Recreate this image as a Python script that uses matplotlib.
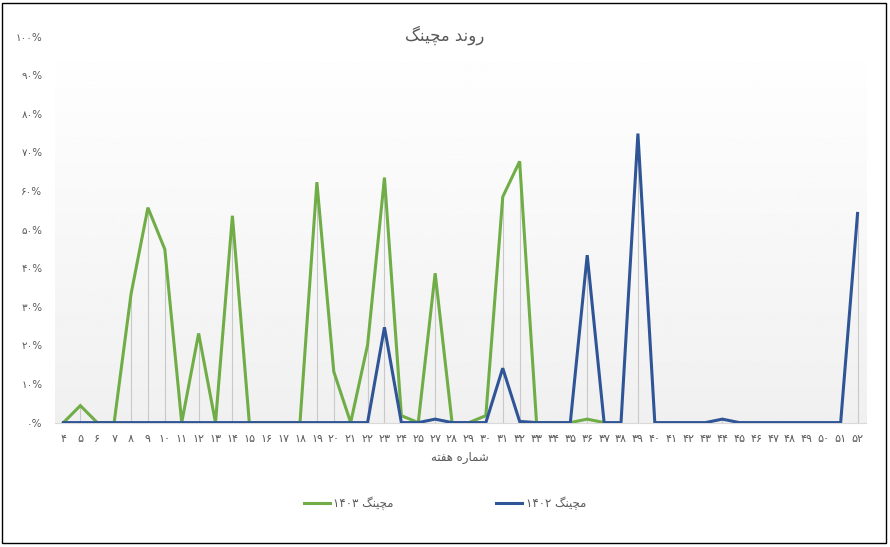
import matplotlib
matplotlib.use('Agg')
import matplotlib.pyplot as plt
import numpy as np
from matplotlib.patches import Rectangle

# --- DATA ---
weeks = [4, 5, 6, 7, 8, 9, 10, 11, 12, 13, 14, 15, 16, 17, 18, 19, 20, 21, 22, 23, 24, 25,
         27, 28, 29, 30, 31, 32, 33, 34, 35, 36, 37, 38, 39, 40, 41, 42, 43, 44, 45, 46,
         47, 48, 49, 50, 51, 52]

# matching % for 1403 (green) - no data after week 37
match_1403 = [0, 4.4, 0, 0, 33.3, 55.7, 44.9, 0, 23.1, 0, 53.6, 0, 0, 0, 0, 62.3, 13.2, 0, 20.1, 63.5, 1.8, 0,
              38.7, 0, 0, 1.8, 58.5, 67.7, 0, 0, 0, 0.9, 0, None, None, None, None, None, None, None, None, None,
              None, None, None, None, None, None]

# matching % for 1402 (blue)
match_1402 = [0, 0, 0, 0, 0, 0, 0, 0, 0, 0, 0, 0, 0, 0, 0, 0, 0, 0, 0, 24.7, 0, 0,
              0.9, 0, 0, 0, 14.1, 0.3, 0, 0, 0, 43.4, 0, 0, 74.9, 0, 0, 0, 0, 0.9, 0, 0,
              0, 0, 0, 0, 0, 54.2]

title_txt = 'روند مچینگ'
xlabel_txt = 'شماره هفته'
name_1403 = 'مچینگ ۱۴۰۳'
name_1402 = 'مچینگ ۱۴۰۲'

# --- simple persian shaping (matplotlib has no bidi / joining) ---
forms = {
    'ا': ('\uFE8D', '\uFE8E', None, None),
    'د': ('\uFEA9', '\uFEAA', None, None),
    'ر': ('\uFEAD', '\uFEAE', None, None),
    'و': ('\uFEED', '\uFEEE', None, None),
    'ن': ('\uFEE5', '\uFEE6', '\uFEE7', '\uFEE8'),
    'م': ('\uFEE1', '\uFEE2', '\uFEE3', '\uFEE4'),
    'چ': ('\uFB7A', '\uFB7B', '\uFB7C', '\uFB7D'),
    'ی': ('\uFBFC', '\uFBFD', '\uFBFE', '\uFBFF'),
    'گ': ('\uFB92', '\uFB93', '\uFB94', '\uFB95'),
    'ش': ('\uFEB5', '\uFEB6', '\uFEB7', '\uFEB8'),
    'ه': ('\uFEE9', '\uFEEA', '\uFEEB', '\uFEEC'),
    'ف': ('\uFED1', '\uFED2', '\uFED3', '\uFED4'),
    'ت': ('\uFE95', '\uFE96', '\uFE97', '\uFE98'),
}


def shape_word(w):
    out = []
    for i, c in enumerate(w):
        iso, fin, ini, med = forms[c]
        prev = w[i - 1] if i > 0 else None
        nxt = w[i + 1] if i < len(w) - 1 else None
        jp = prev is not None and forms[prev][2] is not None
        jn = nxt is not None and ini is not None
        if jp and jn:
            out.append(med)
        elif jp:
            out.append(fin)
        elif jn:
            out.append(ini)
        else:
            out.append(iso)
    return ''.join(reversed(out))


def rtl(text):
    words = text.split(' ')
    return ' '.join(shape_word(w) if w[0] in forms else w for w in reversed(words))


def fa(s):
    return str(s).translate(str.maketrans('0123456789', '۰۱۲۳۴۵۶۷۸۹'))


plt.rcParams['font.family'] = ['DejaVu Sans']
gray = '#595959'
green = '#70AD47'
blue = '#2F5597'

fig = plt.figure(figsize=(8.9, 5.47), dpi=100)
ax = fig.add_axes([55 / 890, 1 - 422.6 / 547, 811 / 890, (422.6 - 36.7) / 547])

x = np.arange(len(weeks))
g = np.array([np.nan if v is None else v for v in match_1403]) / 100
b = np.array(match_1402) / 100

# plot-area gradient
grad = np.linspace(1.0, 0.94, 256).reshape(-1, 1)
ax.imshow(grad, cmap='gray', vmin=0, vmax=1, extent=[-0.5, len(weeks) - 0.5, 0, 1],
          aspect='auto', zorder=0, origin='upper')

# drop lines
top = np.fmax(np.nan_to_num(g), b)
ax.vlines(x, 0, top, color='#c9c9c9', lw=0.8, zorder=1)

ax.plot(x, g, color=green, lw=2.2, label=rtl(name_1403), zorder=3, solid_joinstyle='miter')
ax.plot(x, b, color=blue, lw=2.2, label=rtl(name_1402), zorder=4, solid_joinstyle='miter')

ax.set_xlim(-0.5, len(weeks) - 0.5)
ax.set_ylim(0, 1)
ax.set_xticks(x)
ax.set_xticklabels([fa(w) for w in weeks], fontsize=8, color=gray)
yt = np.arange(0, 1.01, 0.1)
ax.set_yticks(yt)
ax.set_yticklabels([fa(int(round(v * 100))) + '%' for v in yt], fontsize=7.5, color=gray)
ax.tick_params(length=0, pad=8)
ax.tick_params(axis='y', pad=9)
for s in ['top', 'right', 'left']:
    ax.spines[s].set_visible(False)
ax.spines['bottom'].set_color('#d9d9d9')

fig.text(0.5, 1 - 35 / 547, rtl(title_txt), ha='center', va='center', fontsize=12, color=gray)
fig.text(460 / 890, 1 - 458 / 547, rtl(xlabel_txt), ha='center', va='center', fontsize=8.5, color=gray)

fig.legend(loc='center', bbox_to_anchor=(0.5, 1 - 503 / 547), ncol=2, frameon=False,
           fontsize=8.5, labelcolor=gray, columnspacing=8.7, handlelength=2.2, handletextpad=0.3)

fig.patches.append(Rectangle((2 / 890, 4 / 547), 884 / 890, 540 / 547, transform=fig.transFigure,
                             fill=False, edgecolor='black', lw=1))

fig.savefig('out.png', dpi=100)
